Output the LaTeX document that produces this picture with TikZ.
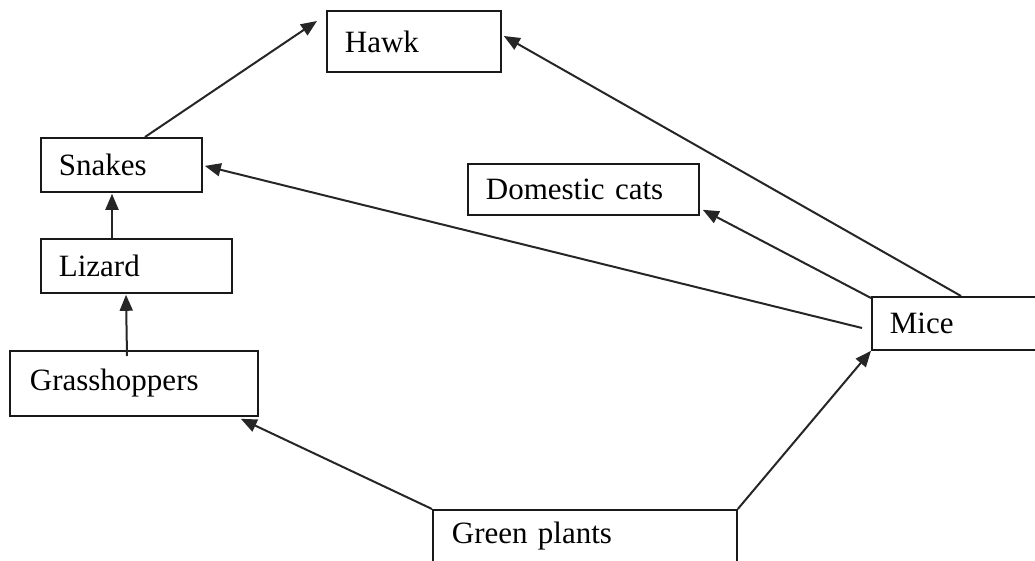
\documentclass[tikz,border=0pt]{standalone}
\usepackage{fontspec}
\setmainfont{Liberation Serif}
\usetikzlibrary{arrows.meta}
\begin{document}
\begin{tikzpicture}[x=1pt,y=-1pt,
  foodbox/.style={draw=black!90, line width=1.8pt, anchor=north west, align=left,
    inner xsep=18pt, inner ysep=0pt, font=\fontsize{31}{36}\selectfont},
  link/.style={draw=black!85, line width=2pt, -{Triangle[length=16pt,width=13pt]}}]
\useasboundingbox (0,0) rectangle (1035,561);
\node[foodbox, text width=138pt, minimum height=61pt] (hawk) at (326,10) {Hawk};
\node[foodbox, text width=125pt, minimum height=54pt] (snakes) at (40,137) {Snakes};
\node[foodbox, text width=195pt, minimum height=51pt] (cats) at (467,163) {Domestic cats};
\node[foodbox, text width=155pt, minimum height=54pt] (lizard) at (40,238) {Lizard};
\node[foodbox, text width=140pt, minimum height=53pt] (mice) at (871,296) {Mice};
\node[foodbox, text width=208pt, minimum height=65pt, inner xsep=20pt] (grass) at (9,350) {Grasshoppers};
\node[foodbox, text width=266pt, minimum height=53pt, inner xsep=19pt] (green) at (432,509) {Green plants};
% connectors
\draw[link] ([xshift=105pt]snakes.north west) -- ([xshift=-9pt,yshift=-11pt]hawk.north west);
\draw[link] ([xshift=90pt]mice.north west) -- ([xshift=2pt,yshift=-26pt]hawk.north east);
\draw[link] ([xshift=-9pt,yshift=-32pt]mice.north west) -- ([xshift=2pt,yshift=-1pt]snakes.east);
\draw[link] ([yshift=-2pt]mice.north west) -- ([xshift=3pt,yshift=6pt]cats.south east);
\draw[link] ([xshift=72pt]lizard.north west) -- ([xshift=72pt,yshift=-1pt]snakes.south west);
\draw[link] ([xshift=118pt,yshift=-6pt]grass.north west) -- ([xshift=86pt,yshift=-1pt]lizard.south west);
\draw[link] (green.north west) -- ([xshift=-18pt,yshift=-2pt]grass.south east);
\draw[link] (green.north east) -- (mice.south west);
\end{tikzpicture}
\end{document}
